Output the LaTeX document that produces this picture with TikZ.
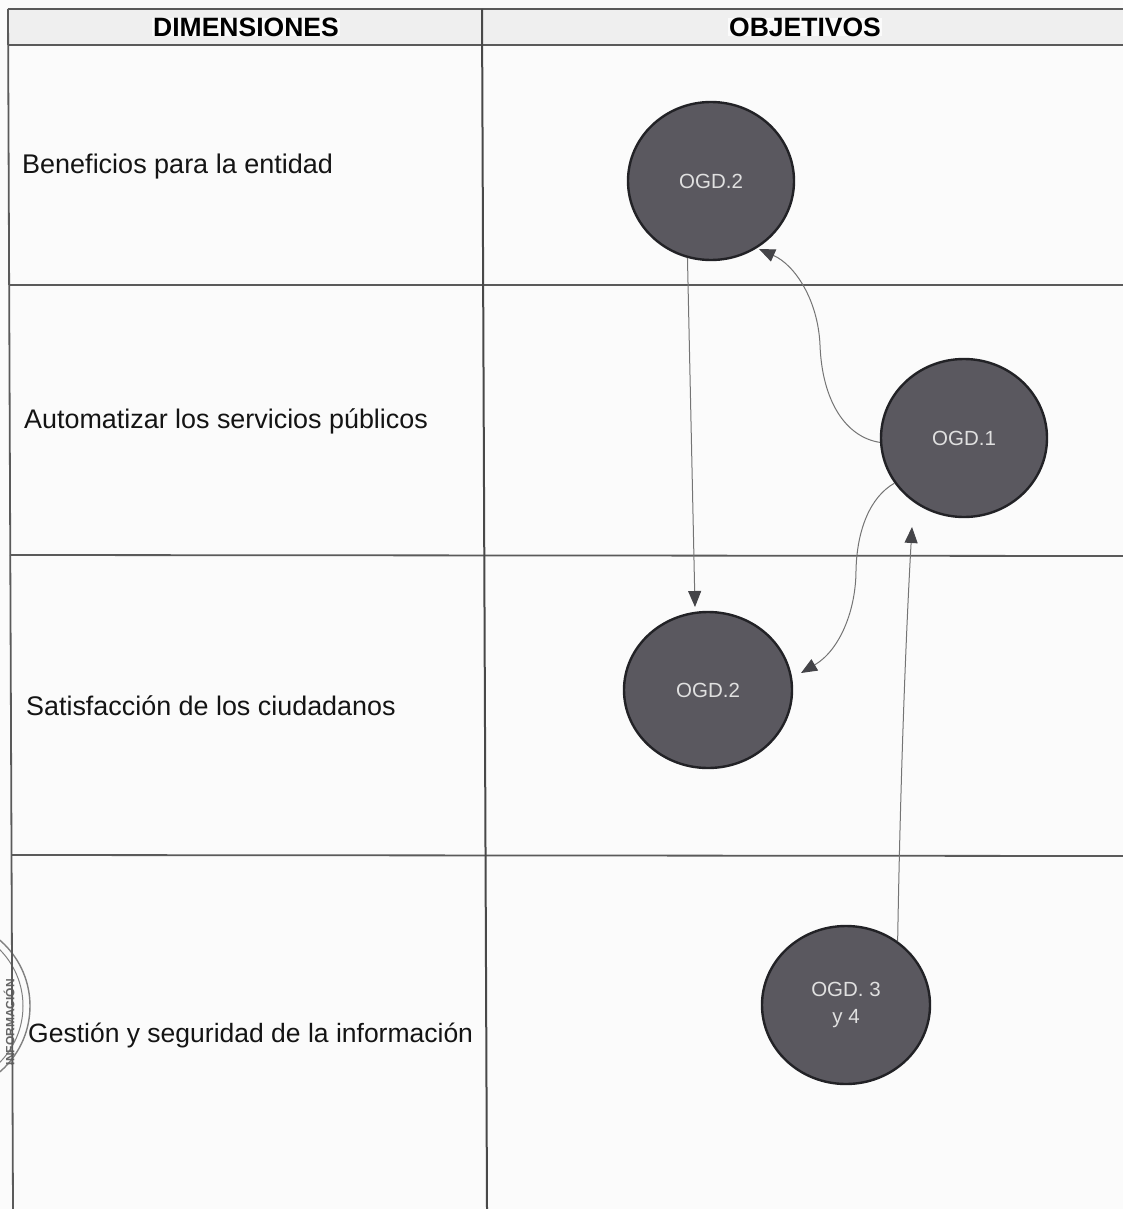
\documentclass[tikz,border=0pt]{standalone}
\usepackage{fontspec}
\setmainfont{Liberation Sans}
\usetikzlibrary{arrows.meta,shapes.geometric}
\definecolor{paper}{HTML}{FBFBFB}
\definecolor{band}{HTML}{EFEFEF}
\definecolor{grid}{HTML}{5A5A5A}
\definecolor{disc}{HTML}{5A585F}
\definecolor{discline}{HTML}{222226}
\definecolor{wire}{HTML}{747474}
\definecolor{tipc}{HTML}{444448}
\definecolor{stampc}{HTML}{808080}
\tikzset{
  x=1pt,y=-1pt,
  gridline/.style={draw=grid,line width=1.8pt},
  headtext/.style={font=\fontsize{26.5}{30}\selectfont\bfseries,text=black,fill=paper,inner xsep=1pt,inner ysep=0pt},
  rowtext/.style={font=\fontsize{26.9}{32}\selectfont,text=black!92,anchor=west,inner sep=0pt},
  ogd/.style={ellipse,draw=discline,line width=2.4pt,fill=disc,inner sep=0pt,minimum width=166pt,minimum height=158pt,
     text=white!88!black,font=\fontsize{20.5}{27}\selectfont,align=center},
  wirearrow/.style={draw=wire,line width=1pt,-{Triangle[length=16pt,width=13pt,color=tipc]}},
}
\begin{document}
\begin{tikzpicture}
\useasboundingbox (0,0) rectangle (1123,1209);
\begin{scope}
\clip (0,0) rectangle (1123,1209);
\fill[paper] (0,0) rectangle (1123,1209);
\fill[band] (8,9) rectangle (1123,45);
% stamp
\draw[stampc,line width=1.4pt] (-57,1006) circle[radius=87];
\draw[stampc,line width=1pt] (-57,1006) circle[radius=80];
\node[rotate=90,text=stampc!80!black,font=\fontsize{12}{14}\selectfont\bfseries,inner sep=0pt] (stamp) at (9,1022) {INFORMACIÓN};
% table
\draw[gridline] (8,9) -- (1123,9);
\draw[gridline] (8,45) -- (1123,45);
\draw[gridline] (10,285) -- (1123,285);
\draw[gridline] (10,555) -- (1123,556);
\draw[gridline] (12,855) -- (1123,856);
\draw[gridline] (8,9) -- (13,1209);
\draw[gridline,line width=2pt,draw=grid!80!black] (482,9) -- (487,1209);
% labels
\node[headtext] (h1) at (246,27) {DIMENSIONES};
\node[headtext] (h2) at (805,27) {OBJETIVOS};
\node[rowtext,font=\fontsize{27}{32}\selectfont] (r1) at (22,167) {Beneficios para la entidad};
\node[rowtext] (r2) at (24,421) {Automatizar los servicios públicos};
\node[rowtext] (r3) at (26,706) {Satisfacción de los ciudadanos};
\node[rowtext,font=\fontsize{26.5}{32}\selectfont] (r4) at (28,1035) {Gestión y seguridad de la información};
% nodes
\node[ogd] (a) at (711,181) {OGD.2};
\node[ogd] (b) at (964,438) {OGD.1};
\node[ogd,minimum width=168pt,minimum height=156pt] (c) at (708,690) {OGD.2};
\node[ogd,minimum width=168pt] (d) at (846,1005) {OGD. 3\\y 4};
% connectors
\coordinate (tipb) at (759,249);
\coordinate (tipc2) at (801,673);
\coordinate (tipd) at (912,527);
\coordinate (tipa) at (695,607);
\draw[wirearrow] (a.253) -- (tipa);
\draw[wirearrow] (b.183) .. controls (845,437) and (822,400) .. (820,345)
   .. controls (818,300) and (795,265) .. (tipb);
\draw[wirearrow] (b.213) .. controls (870,497) and (857,530) .. (856,570)
   .. controls (856,610) and (840,650) .. (tipc2);
\draw[wirearrow] (d.51) .. controls (900,800) and (905,650) .. (tipd);
\end{scope}
\end{tikzpicture}
\end{document}
